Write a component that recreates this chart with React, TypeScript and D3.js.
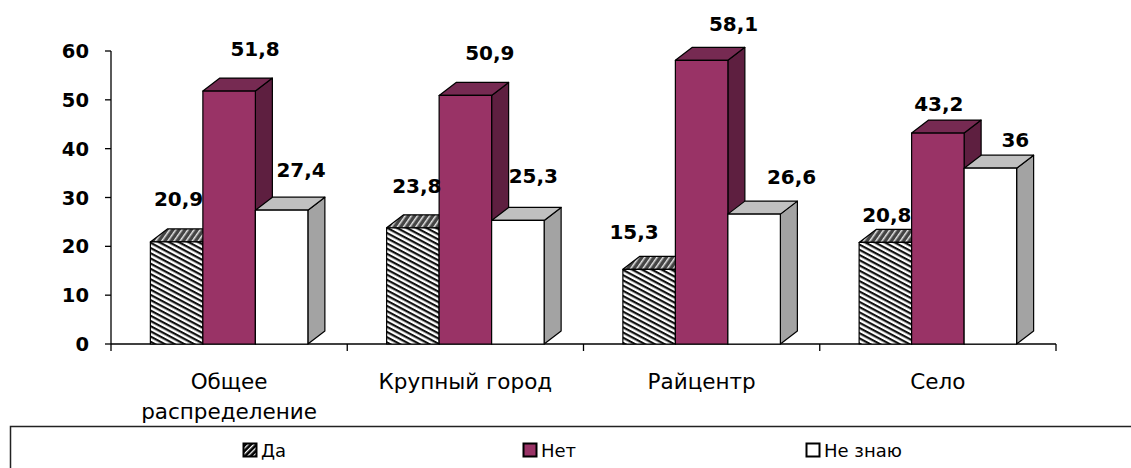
import React from 'react';
import * as d3 from 'd3';

const categories = ['Общее\nраспределение', 'Крупный город', 'Райцентр', 'Село'];
const series = ['Да', 'Нет', 'Не знаю'];
const daValues = [20.9, 23.8, 15.3, 20.8];
const netValues = [51.8, 50.9, 58.1, 43.2];
const neZnayuValues = [27.4, 25.3, 26.6, 36];
const yTicks = [0, 10, 20, 30, 40, 50, 60];

// hand-placed data labels in the original, shift from the front-top centre of each bar
const daLabelShift = [[2, -43], [4, -42], [-15, -37], [1.5, -28]];
const netLabelShift = [[26, -42], [24.5, -43], [32, -36], [1, -29]];
const neZnayuLabelShift = [[19.5, -40], [15.5, -45], [37.5, -37.5], [25, -28.5]];

const W = 1131;
const H = 468;
const depthX = 17;
const depthY = 13;

const styles = [
  { front: 'url(#hatch)', top: 'url(#hatchTop)', side: '#333' },
  { front: '#993366', top: '#762a52', side: '#5e1f40' },
  { front: '#ffffff', top: '#c0c0c0', side: '#a3a3a3' },
];

export default function App() {
  const values = [daValues, netValues, neZnayuValues];
  const shifts = [daLabelShift, netLabelShift, neZnayuLabelShift];

  const x0 = d3.scaleBand<string>().domain(categories).range([111, 1056]).padding(0);
  const x1 = d3.scaleBand<string>().domain(series).range([0, x0.bandwidth()])
    .paddingInner(0).paddingOuter(0.75);
  const y = d3.scaleLinear().domain([0, 60]).range([344, 51]);
  const y0 = y(0);
  const w = x1.bandwidth();
  const fmt = (v: number) => String(v).replace('.', ',');

  const legendX = [243, 523, 806];

  return (
    <svg width={W} height={H} style={{ position: 'absolute', left: 0, top: 0, background: '#fff' }}>
      <defs>
        <pattern id="hatch" patternUnits="userSpaceOnUse" width="4.6" height="4.6" patternTransform="rotate(28)">
          <rect width="4.6" height="4.6" fill="#fff" />
          <rect width="4.6" height="2.2" fill="#111" />
        </pattern>
        <pattern id="hatchTop" patternUnits="userSpaceOnUse" width="5" height="5" patternTransform="rotate(-55)">
          <rect width="5" height="5" fill="#444" />
          <rect width="5" height="1.5" fill="#e6e6e6" />
        </pattern>
        <pattern id="hatchLegend" patternUnits="userSpaceOnUse" width="4" height="4" patternTransform="rotate(-45)">
          <rect width="4" height="4" fill="#000" />
          <rect width="4" height="1.3" fill="#fff" />
        </pattern>
      </defs>

      {/* axes */}
      <line x1={111} x2={111} y1={y(60)} y2={y0} stroke="#000" strokeWidth={1.3} />
      {yTicks.map(t => (
        <g key={t}>
          <line x1={105} x2={111} y1={y(t)} y2={y(t)} stroke="#000" strokeWidth={1.3} />
          <text x={89} y={y(t)} dy="0.36em" textAnchor="end"
            style={{ fontFamily: 'DejaVu Sans', fontWeight: 'bold', fontSize: 19.5 }}>{t}</text>
        </g>
      ))}
      <line x1={111} x2={1056} y1={y0} y2={y0} stroke="#000" strokeWidth={1.3} />
      {[...categories.map(c => x0(c)!), 1056].map((tx, i) => (
        <line key={i} x1={tx} x2={tx} y1={y0} y2={y0 + 7} stroke="#000" strokeWidth={1.3} />
      ))}
      {categories.map(c => (
        <text key={c} x={x0(c)! + x0.bandwidth() / 2} y={389} textAnchor="middle"
          style={{ fontFamily: 'DejaVu Sans', fontSize: 21.5 }}>
          {c.split('\n').map((line, i) => (
            <tspan key={i} x={x0(c)! + x0.bandwidth() / 2} dy={i === 0 ? 0 : 30}>{line}</tspan>
          ))}
        </text>
      ))}

      {/* 3d bars */}
      {categories.map((c, ci) => (
        <g key={c}>
          {series.map((s, si) => {
            const v = values[si][ci];
            const bx = x0(c)! + x1(s)!;
            const yt = y(v);
            const st = styles[si];
            const top = [[bx, yt], [bx + depthX, yt - depthY], [bx + w + depthX, yt - depthY], [bx + w, yt]];
            const side = [[bx + w, yt], [bx + w + depthX, yt - depthY], [bx + w + depthX, y0 - depthY], [bx + w, y0]];
            return (
              <g key={s} stroke="#000" strokeWidth={1.2} strokeLinejoin="round">
                <polygon points={side.join(' ')} fill={st.side} />
                <polygon points={top.join(' ')} fill={st.top} />
                <rect x={bx} y={yt} width={w} height={y0 - yt} fill={st.front} />
              </g>
            );
          })}
        </g>
      ))}

      {/* data labels */}
      {categories.map((c, ci) => series.map((s, si) => {
        const v = values[si][ci];
        const [dx, dy] = shifts[si][ci];
        return (
          <text key={c + s} x={x0(c)! + x1(s)! + w / 2 + dx} y={y(v) + dy} dy="0.36em" textAnchor="middle"
            style={{ fontFamily: 'DejaVu Sans', fontWeight: 'bold', fontSize: 20 }}>{fmt(v)}</text>
        );
      }))}

      {/* legend */}
      <rect x={10.5} y={426.5} width={1130} height={60} fill="none" stroke="#222" strokeWidth={1.5} />
      {series.map((s, si) => (
        <g key={s} transform={`translate(${legendX[si]},443)`}>
          <rect x={0.5} y={0.5} width={13} height={13}
            fill={si === 0 ? 'url(#hatchLegend)' : styles[si].front} stroke="#000" strokeWidth={2} />
          <text x={18} y={14} style={{ fontFamily: 'DejaVu Sans', fontSize: 18 }}>{s}</text>
        </g>
      ))}
    </svg>
  );
}
